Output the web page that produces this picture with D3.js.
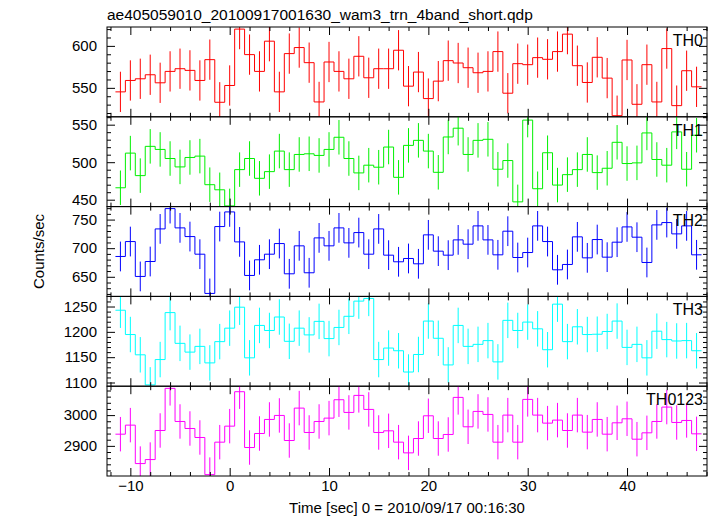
<!DOCTYPE html>
<html><head><meta charset="utf-8">
<script src="https://cdn.jsdelivr.net/npm/d3@7"></script>
<style>
html,body{margin:0;padding:0;background:#fff;}
svg{display:block;font-family:"Liberation Sans",Arial,Helvetica,sans-serif;}
</style></head>
<body><svg id="c" width="717" height="516"></svg>
<script>
const titleText = "ae405059010_20100917001630_wam3_trn_4band_short.qdp";
const xTitle = "Time [sec] 0 = 2010/09/17 00:16:30";
const yTitle = "Counts/sec";
const timeBins = [-11,-10,-9,-8,-7,-6,-5,-4,-3,-2,-1,0,1,2,3,4,5,6,7,8,9,10,11,12,13,14,15,16,17,18,19,20,21,22,23,24,25,26,27,28,29,30,31,32,33,34,35,36,37,38,39,40,41,42,43,44,45,46,47];
const xDomain = [-12.35, 48.05];
const xMajorTicks = [-10, 0, 10, 20, 30, 40];
const xMinorTicks = [-12,-8,-6,-4,-2,2,4,6,8,12,14,16,18,22,24,26,28,32,34,36,38,42,44,46,48];

const panelNames = ["TH0","TH1","TH2","TH3","TH0123"];
const panelColors = ["#ff0000","#00f000","#0000ff","#00ffff","#ff00ff"];
const th0 = [545.2,558.8,560.8,565.6,556,569.6,572.8,570.8,558.8,583.6,532.8,552.8,620,589.6,569.6,605.6,545.2,590.8,598,580,533.2,580.8,569.6,560.8,587.6,562,572.8,572.8,
594.8,552,568.8,537.2,558,582.4,579.6,574,568,569.6,593.2,543.6,578.8,577.6,586,584,593.2,614,576.4,556.4,586.4,561.6,516.8,583.2,530.4,577.6,533.2,596.8,528.8,570.4,551.2];
const th1 = [465.9,512.1,482.1,521.1,517.0,504.9,493.7,506.3,508.1,470.0,463.2,441.7,490.1,504.9,478.5,487.4,514.8,490.1,510.3,511.2,509.0,517.0,533.2,504.9,485.7,496.0,493.3,520.2,
479.8,522.4,529.1,514.8,486.5,533.6,545.3,510.3,529.1,530.5,490.6,502.2,447.1,556.1,464.6,512.6,469.5,483.4,490.1,510.3,486.1,491.9,526.5,498.2,499.1,539.0,503.6,496.0,540.4,490.6,535.9];
const th2 = [685.5,711.6,650.6,676.7,733.7,769.2,735.5,720.3,689.5,620.9,737.8,763.4,711.0,652.3,679.7,689.5,708.1,655.2,704.1,657.0,718.0,704.1,735.5,709.3,727.3,689.5,733.7,687.8,
676.2,682.0,672.7,723.3,694.8,687.8,714.5,707.0,739.0,714.5,688.4,729.7,683.7,692.4,739.0,711.6,662.2,671.5,719.8,683.1,715.1,684.3,710.5,737.2,719.2,675.0,740.7,744.8,725.0,739.0,688.4];
const th3 = [1242.7,1194.7,1154.7,1095.3,1145.3,1238.0,1177.3,1160.0,1171.3,1138.7,1180.7,1207.3,1248.7,1148.7,1212.7,1202.7,1229.3,1181.3,1207.3,1194.0,1220.7,1186.7,1208.7,1230.7,1260.7,1266.0,1145.3,1168.0,
1162.7,1120.7,1155.3,1221.3,1187.3,1134.7,1212.7,1171.3,1175.3,1182.7,1140.7,1222.7,1202.7,1219.3,1206.0,1164.7,1254.7,1180.7,1210.0,1194.7,1195.3,1200.7,1221.3,1169.3,1175.3,1148.7,1201.3,1184.7,1182.0,1182.7,1162.7];
const th0123 = [2938.0,2967.4,2842.4,2855.4,2950.0,3087.0,2979.3,2956.5,2927.2,2806.5,2912.0,2964.1,3076.1,2894.6,2940.2,2985.9,2998.9,2917.4,3022.8,2943.5,2979.3,2990.2,3050.0,3008.7,3064.1,3018.5,2943.5,2948.9,
2912.0,2877.2,2923.9,2997.8,2923.9,2937.0,3057.6,2962.0,3012.0,3002.2,2912.0,3000.0,2912.0,3051.1,3000.0,2973.9,2983.7,2950.0,3000.0,2944.6,2985.9,2938.0,2975.0,2988.0,2921.7,2942.4,2979.3,3026.1,2976.1,2982.6,2939.1];
const panelErrors = [24, 23, 26, 35, 56];
const yDomains = [[515.5,622.5],[440.8,560.5],[615.7,772.7],[1092.7,1270],[2802,3094]];
const yMajorTicks = [[550,600],[450,500,550],[650,700,750],[1100,1150,1200,1250],[2900,3000]];
const yMinorSteps = [10,10,10,10,20];
const series = [th0, th1, th2, th3, th0123];

const svg = d3.select("#c");
const L = 107, R = 707, T = 27, B = 476;
const nP = 5, pH = (B - T) / nP;
const x = d3.scaleLinear().domain(xDomain).range([L, R]);
const FONT = '"Liberation Sans",Arial,sans-serif';

svg.append("text").attr("x", L).attr("y", 20).attr("font-size", 15.5).attr("fill","#000").text(titleText);

const majLen = 8, minLen = 4;

series.forEach((vals, p) => {
  const top = T + p * pH, bot = top + pH;
  const y = d3.scaleLinear().domain(yDomains[p]).range([bot, top]);
  const g = svg.append("g");
  const cid = "clip" + p;
  svg.append("clipPath").attr("id", cid).append("rect")
     .attr("x", L).attr("y", top).attr("width", R - L).attr("height", pH);
  const dg = g.append("g").attr("clip-path", `url(#${cid})`);
  const col = panelColors[p];
  const pts = [];
  timeBins.forEach((t, i) => { pts.push([t - 0.5, vals[i]]); pts.push([t + 0.5, vals[i]]); });
  const line = d3.line().x(d => x(d[0])).y(d => y(d[1]));
  dg.append("path").attr("d", line(pts)).attr("fill","none").attr("stroke", col).attr("stroke-width", 1);
  dg.selectAll("line.err").data(timeBins).join("line").attr("class","err")
    .attr("x1", t => x(t)).attr("x2", t => x(t))
    .attr("y1", (t, i) => y(vals[i] - panelErrors[p]))
    .attr("y2", (t, i) => y(vals[i] + panelErrors[p]))
    .attr("stroke", col).attr("stroke-width", 1);

  const dom = yDomains[p];
  const minor = d3.range(Math.ceil(dom[0] / yMinorSteps[p]) * yMinorSteps[p], dom[1], yMinorSteps[p])
                 .filter(v => !yMajorTicks[p].includes(v));
  const axL = d3.axisLeft(y).tickValues(yMajorTicks[p]).tickSize(-majLen).tickPadding(10).tickFormat(d3.format("d"));
  const axLm = d3.axisLeft(y).tickValues(minor).tickSize(-minLen).tickFormat("");
  const axR = d3.axisRight(y).tickValues(yMajorTicks[p]).tickSize(-majLen).tickFormat("");
  const axRm = d3.axisRight(y).tickValues(minor).tickSize(-minLen).tickFormat("");
  const gl = g.append("g").attr("transform", `translate(${L},0)`).call(axL);
  g.append("g").attr("transform", `translate(${L},0)`).call(axLm);
  g.append("g").attr("transform", `translate(${R},0)`).call(axR);
  g.append("g").attr("transform", `translate(${R},0)`).call(axRm);
  gl.selectAll("text").attr("font-size", 15).attr("fill","#000").attr("font-family", FONT);

  const last = p === nP - 1;
  const xm = xMinorTicks.filter(v => v > xDomain[0] && v < xDomain[1]);
  const axB = d3.axisBottom(x).tickValues(xMajorTicks).tickSize(-majLen).tickPadding(4)
                 .tickFormat(last ? d3.format("d") : "");
  const axBm = d3.axisBottom(x).tickValues(xm).tickSize(-minLen).tickFormat("");
  const axT = d3.axisTop(x).tickValues(xMajorTicks).tickSize(-majLen).tickFormat("");
  const axTm = d3.axisTop(x).tickValues(xm).tickSize(-minLen).tickFormat("");
  const gb = g.append("g").attr("transform", `translate(0,${bot})`).call(axB);
  g.append("g").attr("transform", `translate(0,${bot})`).call(axBm);
  g.append("g").attr("transform", `translate(0,${top})`).call(axT);
  g.append("g").attr("transform", `translate(0,${top})`).call(axTm);
  gb.selectAll("text").attr("font-size", 15).attr("fill","#000").attr("font-family", FONT);

  g.selectAll(".domain").remove();
  g.selectAll(".tick line").attr("stroke","#000");

  g.append("rect").attr("x", L).attr("y", top).attr("width", R - L).attr("height", pH)
    .attr("fill","none").attr("stroke","#000").attr("stroke-width",1);

  g.append("text").attr("x", R - 4).attr("y", top + 19).attr("text-anchor","end")
    .attr("font-size", 16).attr("fill","#000").text(panelNames[p]);
});

svg.append("text").attr("x", (L + R) / 2).attr("y", 513).attr("text-anchor","middle")
   .attr("font-size", 15).attr("fill","#000").text(xTitle);
svg.append("text").attr("transform", `translate(44,${(T + B) / 2}) rotate(-90)`).attr("text-anchor","middle")
   .attr("font-size", 15).attr("fill","#000").text(yTitle);
</script></body></html>
